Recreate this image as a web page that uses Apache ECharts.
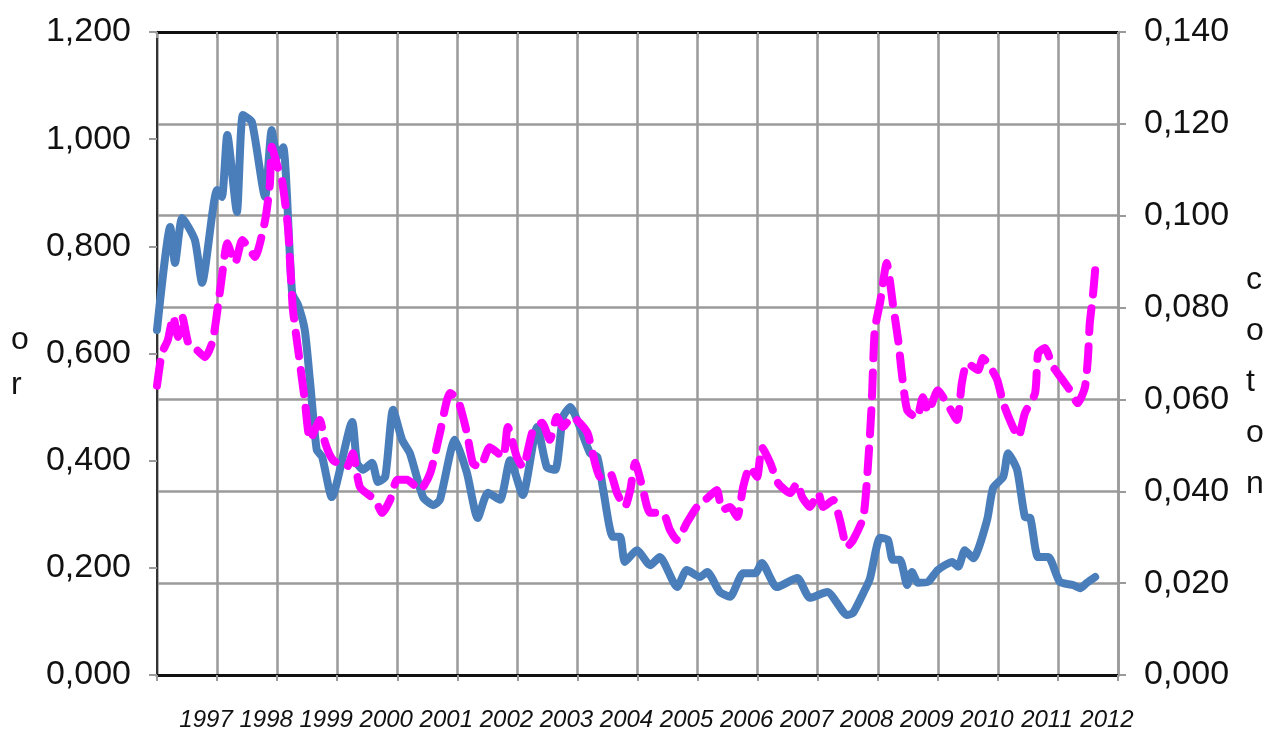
<!DOCTYPE html>
<html style="height: 100%">
<head>
    <title>oro - algodon</title>
    <meta charset="utf-8">
</head>
<body style="height: 100%; margin: 0; background: #fff">
<div id="container" style="height: 747px; width: 1269px"></div>
<script src="https://cdn.jsdelivr.net/npm/echarts@6/dist/echarts.min.js"></script>
<script type="text/javascript">
    // year ticks on the bottom axis
    var years = [1997, 1998, 1999, 2000, 2001, 2002, 2003, 2004, 2005, 2006, 2007, 2008, 2009, 2010, 2011, 2012];

    // left axis series (blue), x = decimal year
    var oroX = [1996.00, 1996.22, 1996.30, 1996.42, 1996.63, 1996.75, 1997.00, 1997.08, 1997.17, 1997.33,
        1997.43, 1997.58, 1997.80, 1997.91, 1998.00, 1998.10, 1998.25, 1998.35, 1998.46, 1998.55,
        1998.66, 1998.75, 1998.91, 1999.25, 1999.33, 1999.43, 1999.58, 1999.68, 1999.80, 1999.93,
        2000.08, 2000.21, 2000.43, 2000.60, 2000.71, 2000.96, 2001.16, 2001.34, 2001.51, 2001.71,
        2001.88, 2002.09, 2002.33, 2002.49, 2002.63, 2002.76, 2002.88, 2003.04, 2003.21, 2003.33,
        2003.43, 2003.59, 2003.71, 2003.79, 2003.99, 2004.21, 2004.37, 2004.66, 2004.82, 2005.04,
        2005.16, 2005.37, 2005.54, 2005.76, 2005.96, 2006.07, 2006.32, 2006.66, 2006.87, 2007.16,
        2007.49, 2007.59, 2007.76, 2007.87, 2008.04, 2008.17, 2008.25, 2008.37, 2008.49, 2008.57,
        2008.67, 2008.84, 2009.00, 2009.24, 2009.34, 2009.45, 2009.59, 2009.82, 2009.92, 2010.09,
        2010.17, 2010.32, 2010.45, 2010.54, 2010.67, 2010.84, 2011.03, 2011.25, 2011.37, 2011.48,
        2011.62];
    var oroY = [0.644, 0.836, 0.769, 0.853, 0.812, 0.732, 0.905, 0.892, 1.008, 0.864,
        1.045, 1.032, 0.892, 1.017, 0.967, 0.985, 0.713, 0.690, 0.644, 0.545,
        0.420, 0.407, 0.332, 0.472, 0.396, 0.383, 0.396, 0.360, 0.370, 0.495,
        0.439, 0.414, 0.332, 0.317, 0.327, 0.439, 0.377, 0.293, 0.340, 0.327,
        0.401, 0.336, 0.463, 0.388, 0.383, 0.482, 0.500, 0.463, 0.414, 0.407,
        0.345, 0.258, 0.258, 0.211, 0.233, 0.205, 0.220, 0.164, 0.196, 0.183,
        0.192, 0.155, 0.146, 0.190, 0.190, 0.209, 0.164, 0.181, 0.144, 0.155,
        0.112, 0.116, 0.153, 0.180, 0.256, 0.252, 0.215, 0.215, 0.168, 0.192,
        0.172, 0.174, 0.196, 0.211, 0.202, 0.233, 0.218, 0.289, 0.349, 0.370,
        0.414, 0.383, 0.295, 0.293, 0.220, 0.220, 0.174, 0.168, 0.162, 0.172,
        0.183];

    // right axis series (magenta dashed)
    var algX = [1996.00, 1996.08, 1996.18, 1996.27, 1996.35, 1996.42, 1996.52, 1996.63, 1996.80, 1996.93,
        1997.08, 1997.17, 1997.30, 1997.42, 1997.52, 1997.63, 1997.80, 1997.88, 1997.91, 1998.01,
        1998.08, 1998.18, 1998.26, 1998.35, 1998.46, 1998.55, 1998.71, 1998.80, 1998.93, 1999.16,
        1999.26, 1999.38, 1999.63, 1999.75, 1999.88, 2000.00, 2000.16, 2000.38, 2000.55, 2000.71,
        2000.88, 2001.01, 2001.16, 2001.26, 2001.38, 2001.54, 2001.76, 2001.84, 2001.99, 2002.09,
        2002.26, 2002.41, 2002.54, 2002.66, 2002.76, 2002.91, 2003.16, 2003.24, 2003.38, 2003.54,
        2003.66, 2003.79, 2003.88, 2003.96, 2004.08, 2004.21, 2004.42, 2004.54, 2004.66, 2004.82,
        2004.99, 2005.16, 2005.32, 2005.41, 2005.54, 2005.66, 2005.76, 2005.87, 2005.99, 2006.07,
        2006.21, 2006.34, 2006.54, 2006.66, 2006.74, 2006.87, 2007.01, 2007.09, 2007.26, 2007.37,
        2007.49, 2007.59, 2007.76, 2007.84, 2007.90, 2007.95, 2008.04, 2008.15, 2008.20, 2008.25,
        2008.34, 2008.40, 2008.49, 2008.65, 2008.75, 2008.84, 2009.00, 2009.15, 2009.32, 2009.40,
        2009.49, 2009.67, 2009.75, 2009.87, 2009.99, 2010.09, 2010.20, 2010.34, 2010.45, 2010.62,
        2010.67, 2010.78, 2010.92, 2011.08, 2011.20, 2011.33, 2011.45, 2011.50, 2011.53, 2011.58,
        2011.62];
    var algY = [0.0630, 0.0700, 0.0729, 0.0780, 0.0736, 0.0780, 0.0723, 0.0712, 0.0692, 0.0729,
        0.0867, 0.0940, 0.0897, 0.0947, 0.0932, 0.0910, 0.0990, 0.1070, 0.1150, 0.1106,
        0.1078, 0.0975, 0.0800, 0.0708, 0.0599, 0.0512, 0.0555, 0.0505, 0.0468, 0.0453,
        0.0483, 0.0409, 0.0381, 0.0353, 0.0381, 0.0425, 0.0425, 0.0403, 0.0440, 0.0527,
        0.0614, 0.0599, 0.0527, 0.0461, 0.0453, 0.0496, 0.0475, 0.0540, 0.0475, 0.0453,
        0.0533, 0.0549, 0.0512, 0.0562, 0.0540, 0.0562, 0.0529, 0.0490, 0.0431, 0.0440,
        0.0396, 0.0366, 0.0403, 0.0462, 0.0410, 0.0353, 0.0353, 0.0316, 0.0294, 0.0331,
        0.0366, 0.0385, 0.0403, 0.0359, 0.0366, 0.0344, 0.0410, 0.0453, 0.0431, 0.0496,
        0.0462, 0.0418, 0.0396, 0.0418, 0.0388, 0.0366, 0.0396, 0.0366, 0.0381, 0.0337,
        0.0279, 0.0294, 0.0344, 0.0462, 0.0592, 0.0751, 0.0812, 0.0897, 0.0860, 0.0810,
        0.0729, 0.0658, 0.0577, 0.0560, 0.0605, 0.0573, 0.0620, 0.0592, 0.0555, 0.0636,
        0.0679, 0.0664, 0.0690, 0.0671, 0.0642, 0.0592, 0.0555, 0.0518, 0.0570, 0.0614,
        0.0701, 0.0712, 0.0671, 0.0642, 0.0620, 0.0592, 0.0627, 0.0692, 0.0766, 0.0823,
        0.0882];

    function pairs(xs, ys) {
        var out = [];
        for (var i = 0; i < xs.length; i++) {
            out.push([xs[i], ys[i]]);
        }
        return out;
    }

    var font = "'Liberation Sans', Arial, sans-serif";
    var gridColor = '#9a9a9a';

    function decimalComma(v) {
        return v.toFixed(3).replace('.', ',');
    }

    var dom = document.getElementById('container');
    var myChart = echarts.init(dom);
    myChart.setOption({
        animation: false,
        backgroundColor: '#fff',
        grid: {left: 157, right: 151, top: 32, bottom: 72},
        // vertical axis titles, one letter per line
        graphic: [
            {
                type: 'text',
                left: 11,
                top: 318,
                style: {text: 'o\nr', font: '32px ' + font, lineHeight: 45, fill: '#111', align: 'center'}
            },
            {
                type: 'text',
                left: 1246,
                top: 255,
                style: {text: 'c\no\nt\no\nn', font: '32px ' + font, lineHeight: 51, fill: '#111', align: 'center'}
            }
        ],
        xAxis: [
            {
                type: 'value',
                min: 1996,
                max: 2012,
                interval: 1,
                axisLine: {onZero: false, lineStyle: {color: '#111', width: 3}},
                axisTick: {show: true, length: 6, lineStyle: {color: gridColor, width: 2}},
                splitLine: {show: true, lineStyle: {color: gridColor, width: 2.5}},
                axisLabel: {
                    margin: 33,
                    showMaxLabel: true,
                    fontFamily: font,
                    fontStyle: 'italic',
                    fontSize: 24,
                    color: '#111',
                    padding: [0, 22, 0, 0],
                    formatter: function (v) {
                        return years.indexOf(v) >= 0 ? String(v) : '';
                    }
                }
            },
            {
                type: 'value',
                position: 'top',
                min: 1996,
                max: 2012,
                interval: 1,
                axisLine: {onZero: false, lineStyle: {color: '#111', width: 3}},
                axisTick: {show: true, inside: true, length: 6, lineStyle: {color: gridColor, width: 2}},
                splitLine: {show: false},
                axisLabel: {show: false}
            }
        ],
        yAxis: [
            {
                type: 'value',
                min: 0,
                max: 1.2,
                interval: 0.2,
                axisLine: {show: true, onZero: false, lineStyle: {color: '#333', width: 2}},
                axisTick: {show: true, length: 8, lineStyle: {color: gridColor, width: 2}},
                splitLine: {show: false},
                axisLabel: {margin: 26, fontFamily: font, fontSize: 34, color: '#111', formatter: decimalComma}
            },
            {
                type: 'value',
                min: 0,
                max: 0.14,
                interval: 0.02,
                axisLine: {show: true, onZero: false, lineStyle: {color: gridColor, width: 2.5}},
                axisTick: {show: true, length: 8, lineStyle: {color: gridColor, width: 2}},
                splitLine: {show: true, lineStyle: {color: gridColor, width: 2.5}},
                axisLabel: {margin: 26, fontFamily: font, fontSize: 34, color: '#111', formatter: decimalComma}
            }
        ],
        series: [
            {
                name: 'oro',
                type: 'line',
                xAxisIndex: 0,
                yAxisIndex: 0,
                data: pairs(oroX, oroY),
                showSymbol: false,
                smooth: 0.2,
                lineStyle: {color: '#4a7ebb', width: 8, cap: 'round', join: 'round'}
            },
            {
                name: 'algodon',
                type: 'line',
                xAxisIndex: 0,
                yAxisIndex: 1,
                data: pairs(algX, algY),
                showSymbol: false,
                smooth: 0.2,
                lineStyle: {color: '#ff00ff', width: 8, type: [24, 14], cap: 'round', join: 'round'}
            }
        ]
    });
</script>
</body>
</html>
